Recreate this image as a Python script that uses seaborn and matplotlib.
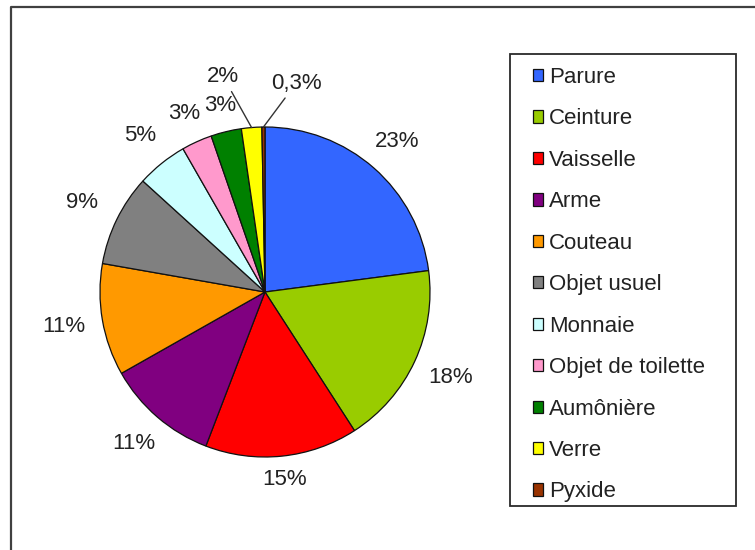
import numpy as np
import matplotlib
matplotlib.use("Agg")
import matplotlib.pyplot as plt
from matplotlib.patches import Rectangle
from matplotlib.lines import Line2D
import seaborn as sns

# Data
categories = ["Parure", "Ceinture", "Vaisselle", "Arme", "Couteau", "Objet usuel",
              "Monnaie", "Objet de toilette", "Aumônière", "Verre", "Pyxide"]
shares = [23, 18, 15, 11, 11, 9, 5, 3, 3, 2, 0.3]
pct_labels = [f"{v:g}%".replace(".", ",") for v in shares]
colors = ["#3366FF", "#99CC00", "#FF0000", "#800080", "#FF9900", "#808080",
          "#CCFFFF", "#FF99CC", "#008000", "#FFFF00", "#993300"]

# Styling
sns.set_style("white")
plt.rcParams["font.family"] = ["Liberation Sans", "DejaVu Sans"]
FS = 16
W, H = 755, 550
R_PX = 165
CX, CY = 265, 292
HALF = 200

fig = plt.figure(figsize=(W / 100, H / 100), dpi=100)
fig.patch.set_facecolor("white")
ax = fig.add_axes([(CX - HALF) / W, (H - CY - HALF) / H, 2 * HALF / W, 2 * HALF / H])
lim = HALF / R_PX

wedges, _ = ax.pie(shares, colors=colors, startangle=90, counterclock=False,
                   radius=1, normalize=True,
                   wedgeprops=dict(edgecolor="#111111", linewidth=0.9))
ax.set_xlim(-lim, lim)
ax.set_ylim(-lim, lim)
ax.set_aspect("equal")
ax.axis("off")

# percentage labels (two smallest slices get leader lines)
leader = {9: (101.0, 1.33), 10: (81.5, 1.28)}
for i, (w, lab) in enumerate(zip(wedges, pct_labels)):
    mid = np.deg2rad((w.theta1 + w.theta2) / 2)
    if i in leader:
        ang, dist = leader[i]
        a = np.deg2rad(ang)
        ax.annotate(lab, xy=(np.cos(mid), np.sin(mid)),
                    xytext=(dist * np.cos(a), dist * np.sin(a)),
                    ha="center", va="center", fontsize=FS, color="#222222",
                    arrowprops=dict(arrowstyle="-", color="#333333", lw=1.0,
                                    shrinkA=1, shrinkB=0))
        continue
    d = 1.08 + 0.15 * abs(np.cos(mid)) + 0.05 * abs(np.sin(mid))
    ax.text(d * np.cos(mid), d * np.sin(mid), lab, ha="center", va="center",
            fontsize=FS, color="#222222")

# legend
leg = fig.legend(wedges, categories, loc="upper left",
                 bbox_to_anchor=(533 / W, 1 - 67 / H), frameon=False,
                 fontsize=FS, handlelength=0.47, handleheight=0.47,
                 handletextpad=0.25, labelspacing=0.92, borderpad=0,
                 borderaxespad=0)
for t in leg.get_texts():
    t.set_color("#222222")

fig.add_artist(Rectangle((510 / W, 1 - 506 / H), 226 / W, 452 / H,
                         transform=fig.transFigure, fill=False,
                         edgecolor="#2a2a2a", linewidth=1.3))

# outer chart frame (only top and left visible)
fig.add_artist(Line2D([11 / W, 11 / W, 1.0], [0.0, 1 - 7 / H, 1 - 7 / H],
                      transform=fig.transFigure, color="#404040", linewidth=1.6))

fig.savefig("out.png", dpi=100, facecolor="white")
